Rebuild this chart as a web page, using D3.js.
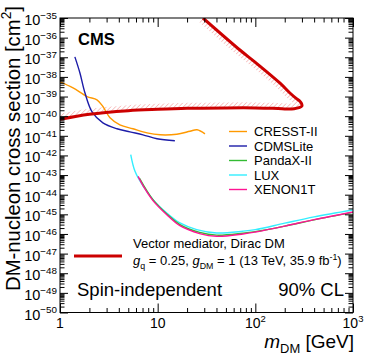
<!DOCTYPE html>
<html><head><meta charset="utf-8">
<script src="https://cdn.jsdelivr.net/npm/d3@7"></script>
<style>
body{margin:0;background:#fff}
svg text{font-family:"Liberation Sans",Arial,Helvetica,sans-serif;fill:#000}
</style>
</head><body>
<svg id="c" width="374" height="359"></svg>
<script>
// ---------------- data (mass in GeV, log10 of cross section in cm^2) ----------------
const cmsMass   = [1, 2, 5, 10, 20, 50, 100, 150, 200, 250, 280, 300, 295, 280, 260, 226, 179, 100, 69.5, 29.1];
const cmsLogXs  = [-40.16, -39.90, -39.72, -39.65, -39.60, -39.58, -39.58, -39.60, -39.63, -39.62, -39.57, -39.48, -39.33, -39.20, -39.08, -38.82, -38.32, -37.26, -36.63, -35.0];

const cresstMass  = [1, 1.36, 1.89, 2.39, 2.75, 3.25, 4.1, 5.58, 7.77, 10.6, 15.7, 21.4, 25.3, 30.5];
const cresstLogXs = [-38.25, -38.56, -39.0, -39.17, -39.51, -40.08, -40.44, -40.64, -40.85, -40.95, -40.92, -40.77, -40.69, -40.90];

const cdmsMass  = [1.42, 1.60, 1.80, 2.13, 2.75, 3.83, 5.2, 7.07, 9.84, 15.0];
const cdmsLogXs = [-36.98, -37.80, -38.81, -39.78, -40.34, -40.64, -40.80, -40.95, -41.15, -41.25];

const pandaMass  = [6.5, 8.95, 12.4, 16.9, 26.9, 40.2, 74.6, 100, 200, 400, 1000];
const pandaLogXs = [-43.15, -44.25, -44.98, -45.52, -45.92, -46.06, -45.96, -45.88, -45.60, -45.28, -44.90];

const luxMass  = [5.3, 5.86, 7.13, 8.95, 12.4, 16.9, 25.1, 40.2, 74.6, 100, 200, 400, 1000];
const luxLogXs = [-41.96, -42.81, -43.58, -44.25, -44.93, -45.44, -45.78, -45.95, -45.86, -45.78, -45.45, -45.13, -44.78];

const xenonMass  = [6.3, 7.2, 8.95, 12.4, 16.9, 26.9, 40.2, 74.6, 100, 200, 400, 1000];
const xenonLogXs = [-43.07, -43.6, -44.3, -45.02, -45.58, -45.98, -46.12, -46.0, -45.9, -45.6, -45.27, -44.88];

const legendNames  = ["CRESST-II", "CDMSLite", "PandaX-II", "LUX", "XENON1T"];
const legendColors = ["#ff9900", "#1c1ca8", "#33bb33", "#33eeff", "#ff1493"];

const xTickValues = [1, 10, 100, 1000];
const xTickBase   = ["1", "10", "10", "10"];
const xTickSup    = ["", "", "2", "3"];
const yTickExps   = [-35, -36, -37, -38, -39, -40, -41, -42, -43, -44, -45, -46, -47, -48, -49, -50];

// ---------------- layout ----------------
const L = 60, R = 353, T = 18, B = 312.5;
const svg = d3.select("#c");
const x = d3.scaleLog().domain([1, 1000]).range([L, R]);
const y = d3.scaleLog().domain([1e-50, 1e-35]).range([B, T]);

const toPts = (ms, ls) => ms.map((m, i) => [m, Math.pow(10, ls[i])]);
const line = d3.line().x(d => x(d[0])).y(d => y(d[1])).curve(d3.curveCatmullRom.alpha(0.5));
const lineLin = d3.line().x(d => x(d[0])).y(d => y(d[1])).curve(d3.curveLinear);

const defs = svg.append("defs");
const pat = defs.append("pattern").attr("id", "hatch").attr("width", 3.2).attr("height", 3.2)
  .attr("patternUnits", "userSpaceOnUse").attr("patternTransform", "rotate(45)");
pat.append("line").attr("x1", 0).attr("y1", 0).attr("x2", 0).attr("y2", 3.2)
  .attr("stroke", "#f07878").attr("stroke-width", 0.8);
defs.append("clipPath").attr("id", "plotclip").append("rect")
  .attr("x", L).attr("y", T).attr("width", R - L).attr("height", B - T);

const cmsPts = toPts(cmsMass, cmsLogXs);
const inside = cmsPts.concat([[1, 1e-35], [1, Math.pow(10, cmsLogXs[0])]]);
defs.append("clipPath").attr("id", "inclip").append("path").attr("d", lineLin(inside) + "Z");

const plot = svg.append("g").attr("clip-path", "url(#plotclip)");

// hatched band inside the CMS contour
plot.append("g").attr("clip-path", "url(#inclip)").append("path")
  .attr("d", line(cmsPts)).attr("fill", "none").attr("stroke", "url(#hatch)").attr("stroke-width", 11);

// DD curves
const series = [
  [cresstMass, cresstLogXs, legendColors[0]],
  [cdmsMass, cdmsLogXs, legendColors[1]],
  [luxMass, luxLogXs, legendColors[3]],
  [pandaMass, pandaLogXs, legendColors[2]],
  [xenonMass, xenonLogXs, legendColors[4]]
];
series.forEach(([m, l, c]) => {
  plot.append("path").attr("d", line(toPts(m, l))).attr("fill", "none")
    .attr("stroke", c).attr("stroke-width", 1.4);
});

// CMS curve
plot.append("path").attr("d", line(cmsPts)).attr("fill", "none")
  .attr("stroke", "#cc0000").attr("stroke-width", 3).attr("stroke-linejoin", "round");

// ---------------- axes ----------------
const minors = [];
[-50,-49,-48,-47,-46,-45,-44,-43,-42,-41,-40,-39,-38,-37,-36].forEach(e => {
  for (let k = 2; k <= 9; k++) minors.push(k * Math.pow(10, e));
});
const yMajors = yTickExps.map(e => Math.pow(10, e));
const xMinors = [];
[1, 10, 100].forEach(d => { for (let k = 2; k <= 9; k++) xMinors.push(k * d); });

function styleAxis(g) {
  g.select(".domain").remove();
  g.selectAll(".tick line").attr("stroke", "#000").attr("stroke-width", 1);
  g.selectAll(".tick text").remove();
}
svg.append("g").attr("transform", `translate(${L},0)`).call(d3.axisRight(y).tickValues(yMajors).tickSize(8)).call(styleAxis);
svg.append("g").attr("transform", `translate(${L},0)`).call(d3.axisRight(y).tickValues(minors).tickSize(4.5)).call(styleAxis);
svg.append("g").attr("transform", `translate(${R},0)`).call(d3.axisLeft(y).tickValues(yMajors).tickSize(8)).call(styleAxis);
svg.append("g").attr("transform", `translate(${R},0)`).call(d3.axisLeft(y).tickValues(minors).tickSize(4.5)).call(styleAxis);
svg.append("g").attr("transform", `translate(0,${B})`).call(d3.axisTop(x).tickValues(xTickValues).tickSize(9)).call(styleAxis);
svg.append("g").attr("transform", `translate(0,${B})`).call(d3.axisTop(x).tickValues(xMinors).tickSize(4.5)).call(styleAxis);
svg.append("g").attr("transform", `translate(0,${T})`).call(d3.axisBottom(x).tickValues(xTickValues).tickSize(9)).call(styleAxis);
svg.append("g").attr("transform", `translate(0,${T})`).call(d3.axisBottom(x).tickValues(xMinors).tickSize(4.5)).call(styleAxis);

svg.append("rect").attr("x", L).attr("y", T).attr("width", R - L).attr("height", B - T)
  .attr("fill", "none").attr("stroke", "#000").attr("stroke-width", 1);

// rich text helper
function rich(parent, px, py, parts, size, anchor) {
  const t = parent.append("text").attr("x", px).attr("y", py).attr("font-size", size)
    .attr("text-anchor", anchor || "start");
  let off = 0;
  parts.forEach(p => {
    let target = 0, fs = size;
    if (p.sup) { target = -size * 0.42; fs = size * 0.68; }
    if (p.sub) { target = size * 0.28; fs = size * 0.68; }
    const ts = t.append("tspan").text(p.t).attr("dy", target - off).attr("font-size", fs);
    if (p.it) ts.attr("font-style", "italic");
    off = target;
  });
  return t;
}

// y tick labels
yTickExps.forEach(e => {
  rich(svg, 57, y(Math.pow(10, e)) + 7, [{t: "10"}, {t: "\u2212" + Math.abs(e), sup: true}], 14.5, "end");
});
// x tick labels
xTickValues.forEach((v, i) => {
  const parts = [{t: xTickBase[i]}];
  if (xTickSup[i]) parts.push({t: xTickSup[i], sup: true});
  rich(svg, x(v), 328, parts, 14, "middle");
});

// axis titles
rich(svg, 354, 348, [{t: "m", it: true}, {t: "DM", sub: true}, {t: " [GeV]"}], 19, "end");
const yt = svg.append("g").attr("transform", "translate(20,6) rotate(-90)");
rich(yt, 0, 0, [{t: "DM-nucleon cross section [cm"}, {t: "2", sup: true}, {t: "]"}], 20.3, "end");

// labels
svg.append("text").attr("x", 78).attr("y", 45).attr("font-size", 16.5).attr("font-weight", "bold").text("CMS");
svg.append("text").attr("x", 77).attr("y", 296).attr("font-size", 18.5).text("Spin-independent");
svg.append("text").attr("x", 344).attr("y", 296).attr("font-size", 18.5).attr("text-anchor", "end").text("90% CL");

// legend (DD experiments)
legendNames.forEach((n, i) => {
  const ly = 131.5 + 14.5 * i;
  svg.append("line").attr("x1", 229).attr("x2", 247).attr("y1", ly).attr("y2", ly)
    .attr("stroke", legendColors[i]).attr("stroke-width", 1.4);
  svg.append("text").attr("x", 254).attr("y", ly + 4.7).attr("font-size", 13).text(n);
});

// CMS legend
svg.append("line").attr("x1", 74).attr("x2", 122).attr("y1", 256).attr("y2", 256)
  .attr("stroke", "#cc0000").attr("stroke-width", 3);
svg.append("text").attr("x", 133).attr("y", 248).attr("font-size", 13).text("Vector mediator, Dirac DM");
rich(svg, 133, 265, [
  {t: "g", it: true}, {t: "q", sub: true}, {t: " = 0.25, "},
  {t: "g", it: true}, {t: "DM", sub: true}, {t: " = 1 (13 TeV, 35.9 fb"},
  {t: "-1", sup: true}, {t: ")"}
], 13, "start");
</script>
</body></html>
